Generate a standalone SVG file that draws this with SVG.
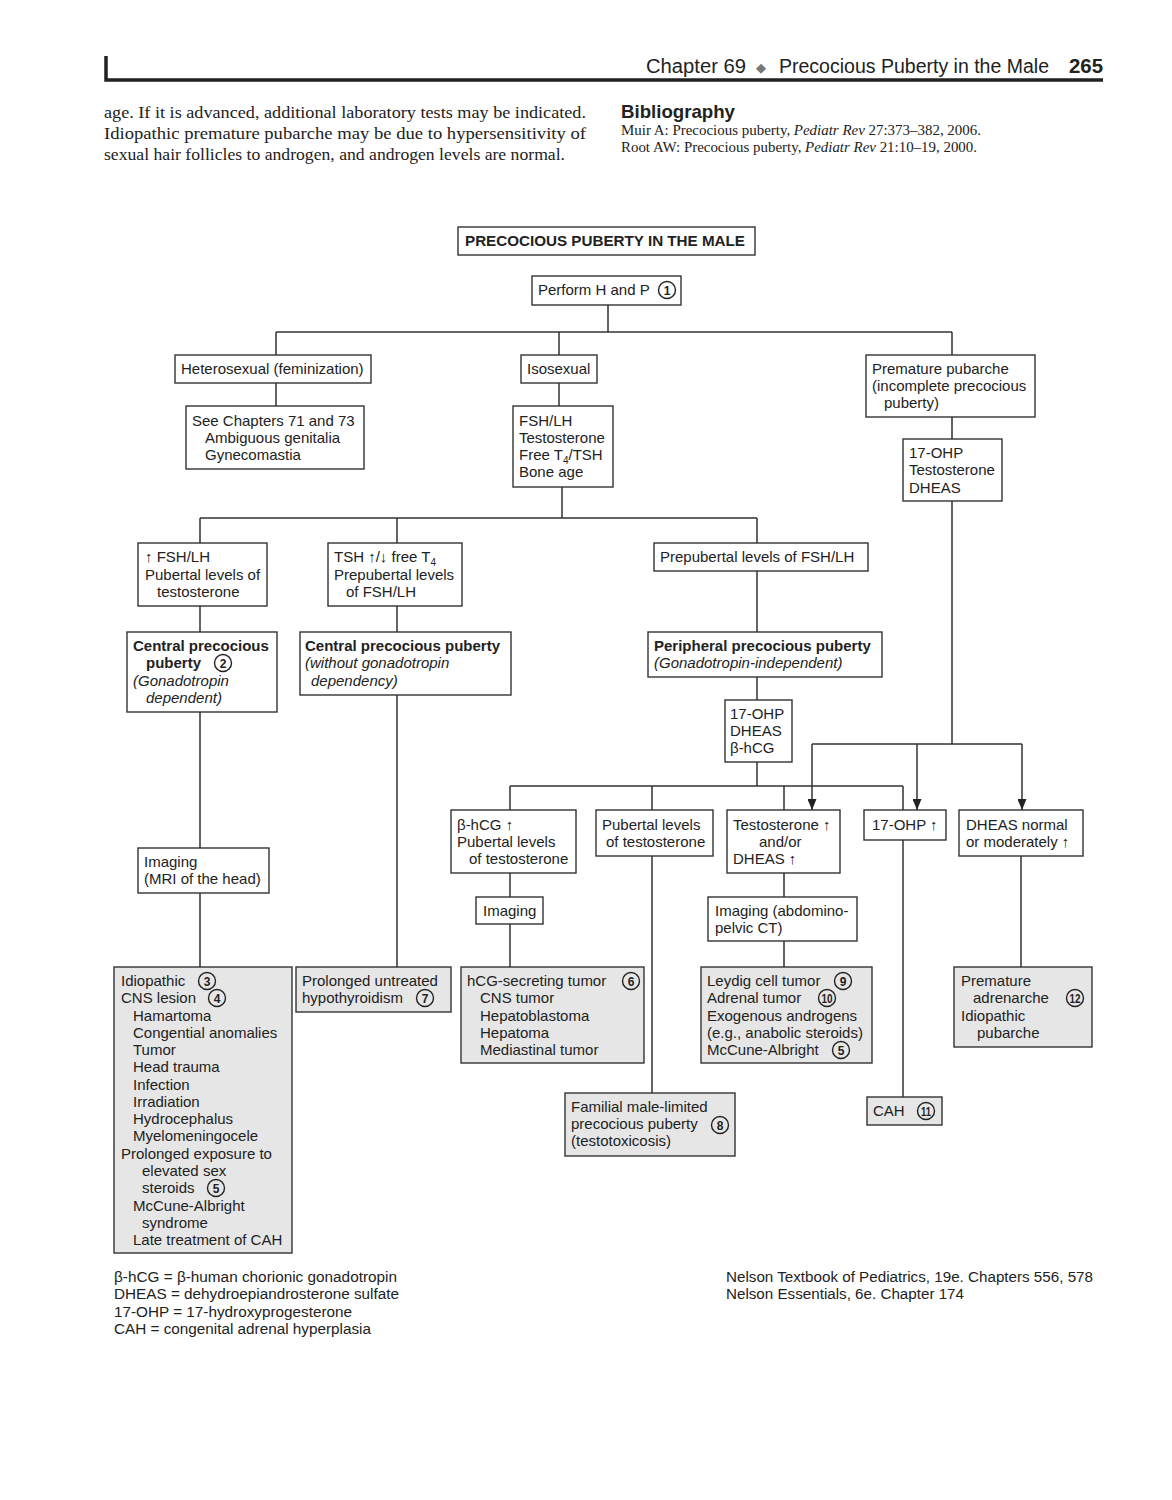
<svg xmlns="http://www.w3.org/2000/svg" width="1172" height="1500" viewBox="0 0 1172 1500">
<style>
.bg{fill:#fff}
.box{fill:#fff;stroke:#333;stroke-width:1.4}
.gbox{fill:#e6e6e6;stroke:#333;stroke-width:1.4}
.t{font-family:"Liberation Sans",Arial,sans-serif;font-size:15px;fill:#222}
.b{font-weight:bold}
.i{font-style:italic}
.c{fill:none;stroke:#333;stroke-width:1.5}
.n circle{fill:none;stroke:#222;stroke-width:1.4}
.n text{font-family:"Liberation Sans",Arial,sans-serif;font-size:12px;font-weight:bold;fill:#222;text-anchor:middle}
.hdr{font-family:"Liberation Sans",Arial,sans-serif;fill:#222}
.ser{font-family:"Liberation Serif","Times New Roman",serif;fill:#222}
.ft{font-family:"Liberation Sans",Arial,sans-serif;font-size:14px;fill:#222}
</style>
<defs>
<marker id="ah" markerUnits="userSpaceOnUse" markerWidth="12" markerHeight="9" refX="11" refY="4.5" orient="auto">
<path d="M0,0 L11,4.5 L0,9 z" fill="#222"/>
</marker>
</defs>
<rect class="bg" x="0" y="0" width="1172" height="1500"/>

<g id="page-header">
<path d="M106 56 V80 H1103" fill="none" stroke="#222" stroke-width="3.5"/>
<text class="hdr" x="646" y="73" font-size="20" textLength="100" lengthAdjust="spacingAndGlyphs">Chapter 69</text>
<text class="hdr" x="756" y="72" font-size="13" fill="#777" style="fill:#777">◆</text>
<text class="hdr" x="779" y="73" font-size="20" textLength="270" lengthAdjust="spacingAndGlyphs">Precocious Puberty in the Male</text>
<text class="hdr" x="1069" y="73" font-size="20" font-weight="bold" textLength="34" lengthAdjust="spacingAndGlyphs">265</text>
<text class="ser" x="104" y="118" font-size="17" textLength="482" lengthAdjust="spacingAndGlyphs">age. If it is advanced, additional laboratory tests may be indicated.</text>
<text class="ser" x="104" y="139" font-size="17" textLength="482" lengthAdjust="spacingAndGlyphs">Idiopathic premature pubarche may be due to hypersensitivity of</text>
<text class="ser" x="104" y="160" font-size="17" textLength="461" lengthAdjust="spacingAndGlyphs">sexual hair follicles to androgen, and androgen levels are normal.</text>
<text class="hdr" x="621" y="118" font-size="19" font-weight="bold" textLength="114" lengthAdjust="spacingAndGlyphs">Bibliography</text>
<text class="ser" x="621" y="135" font-size="14" textLength="360" lengthAdjust="spacingAndGlyphs">Muir A: Precocious puberty, <tspan font-style="italic">Pediatr Rev</tspan> 27:373–382, 2006.</text>
<text class="ser" x="621" y="152" font-size="14" textLength="356" lengthAdjust="spacingAndGlyphs">Root AW: Precocious puberty, <tspan font-style="italic">Pediatr Rev</tspan> 21:10–19, 2000.</text>
</g>

<g id="connectors">
<path class="c" d="M608 305 V332 M276 332 H952 M276 332 V355 M559 332 V355 M952 332 V355"/>
<path class="c" d="M276 383 V406 M559 383 V406 M952 417 V439"/>
<path class="c" d="M562 487 V518 M200 518 H757 M200 518 V543 M397 518 V543 M757 518 V543"/>
<path class="c" d="M200 606 V632 M397 606 V632 M757 571 V632"/>
<path class="c" d="M200 712 V848 M397 695 V967 M757 677 V700 M200 893 V967"/>
<path class="c" d="M757 762 V786 M510 786 H903 M510 786 V810 M652 786 V810 M784 786 V810 M903 786 V810"/>
<path class="c" d="M952 501 V744 M812 744 H1022"/>
<path class="c" d="M812 744 V810" marker-end="url(#ah)"/>
<path class="c" d="M917 744 V810" marker-end="url(#ah)"/>
<path class="c" d="M1022 744 V810" marker-end="url(#ah)"/>
<path class="c" d="M510 873 V897 M510 924 V967 M652 856 V1093 M784 873 V897 M784 941 V967 M903 840 V1097 M1021 856 V967"/>
</g>

<g id="n-title">
<rect class="box" x="458" y="227" width="297" height="28"/>
<text class="t b" x="465" y="246" textLength="280" lengthAdjust="spacingAndGlyphs">PRECOCIOUS PUBERTY IN THE MALE</text>
</g>
<g id="n-perform">
<rect class="box" x="532" y="276" width="149" height="29"/>
<text class="t" x="538" y="295">Perform H and P</text>
<g class="n"><circle cx="667" cy="290" r="8.5"/><text x="667" y="294.5">1</text></g>
</g>
<g id="n-hetero">
<rect class="box" x="175" y="355" width="196" height="28"/>
<text class="t" x="181" y="374">Heterosexual (feminization)</text>
</g>
<g id="n-seechapters">
<rect class="box" x="186" y="406" width="178" height="63"/>
<text class="t" x="192" y="426">See Chapters 71 and 73</text>
<text class="t" x="205" y="443">Ambiguous genitalia</text>
<text class="t" x="205" y="460">Gynecomastia</text>
</g>
<g id="n-isosexual">
<rect class="box" x="521" y="355" width="76" height="28"/>
<text class="t" x="527" y="374">Isosexual</text>
</g>
<g id="n-labs">
<rect class="box" x="513" y="406" width="100" height="81"/>
<text class="t" x="519" y="426">FSH/LH</text>
<text class="t" x="519" y="443">Testosterone</text>
<text class="t" x="519" y="460">Free T<tspan font-size="10" dy="4">4</tspan><tspan dy="-4">/TSH</tspan></text>
<text class="t" x="519" y="477">Bone age</text>
</g>
<g id="n-pubarche">
<rect class="box" x="866" y="355" width="169" height="62"/>
<text class="t" x="872" y="374">Premature pubarche</text>
<text class="t" x="872" y="391">(incomplete precocious</text>
<text class="t" x="884" y="408">puberty)</text>
</g>
<g id="n-pubarche-labs">
<rect class="box" x="903" y="439" width="99" height="62"/>
<text class="t" x="909" y="458">17-OHP</text>
<text class="t" x="909" y="475">Testosterone</text>
<text class="t" x="909" y="493">DHEAS</text>
</g>
<g id="n-high-fsh">
<rect class="box" x="138" y="543" width="129" height="63"/>
<text class="t" x="145" y="562">↑ FSH/LH</text>
<text class="t" x="145" y="580">Pubertal levels of</text>
<text class="t" x="157" y="597">testosterone</text>
</g>
<g id="n-tsh">
<rect class="box" x="328" y="543" width="134" height="63"/>
<text class="t" x="334" y="562">TSH ↑/↓ free T<tspan font-size="10" dy="4">4</tspan></text>
<text class="t" x="334" y="580">Prepubertal levels</text>
<text class="t" x="346" y="597">of FSH/LH</text>
</g>
<g id="n-prepubertal">
<rect class="box" x="654" y="543" width="214" height="28"/>
<text class="t" x="660" y="562">Prepubertal levels of FSH/LH</text>
</g>
<g id="n-cpp">
<rect class="box" x="127" y="632" width="150" height="80"/>
<text class="t b" x="133" y="651">Central precocious</text>
<text class="t b" x="146" y="668">puberty</text>
<g class="n"><circle cx="223" cy="663" r="8.5"/><text x="223" y="667.5">2</text></g>
<text class="t i" x="133" y="686">(Gonadotropin</text>
<text class="t i" x="146" y="703">dependent)</text>
</g>
<g id="n-cpp2">
<rect class="box" x="300" y="632" width="211" height="63"/>
<text class="t b" x="305" y="651">Central precocious puberty</text>
<text class="t i" x="305" y="668">(without gonadotropin</text>
<text class="t i" x="311" y="686">dependency)</text>
</g>
<g id="n-ppp">
<rect class="box" x="648" y="632" width="234" height="45"/>
<text class="t b" x="654" y="651">Peripheral precocious puberty</text>
<text class="t i" x="654" y="668">(Gonadotropin-independent)</text>
</g>
<g id="n-ppp-labs">
<rect class="box" x="725" y="700" width="67" height="62"/>
<text class="t" x="730" y="719">17-OHP</text>
<text class="t" x="730" y="736">DHEAS</text>
<text class="t" x="730" y="753">β-hCG</text>
</g>
<g id="n-imaging-mri">
<rect class="box" x="138" y="848" width="131" height="45"/>
<text class="t" x="144" y="867">Imaging</text>
<text class="t" x="144" y="884">(MRI of the head)</text>
</g>
<g id="n-bhcg">
<rect class="box" x="451" y="810" width="125" height="63"/>
<text class="t" x="457" y="830">β-hCG ↑</text>
<text class="t" x="457" y="847">Pubertal levels</text>
<text class="t" x="469" y="864">of testosterone</text>
</g>
<g id="n-pubertal-t">
<rect class="box" x="596" y="810" width="117" height="46"/>
<text class="t" x="602" y="830">Pubertal levels</text>
<text class="t" x="606" y="847">of testosterone</text>
</g>
<g id="n-testo">
<rect class="box" x="727" y="810" width="113" height="63"/>
<text class="t" x="733" y="830">Testosterone ↑</text>
<text class="t" x="759" y="847">and/or</text>
<text class="t" x="733" y="864">DHEAS ↑</text>
</g>
<g id="n-17ohp">
<rect class="box" x="864" y="810" width="82" height="30"/>
<text class="t" x="872" y="830">17-OHP ↑</text>
</g>
<g id="n-dheas">
<rect class="box" x="959" y="810" width="124" height="46"/>
<text class="t" x="966" y="830">DHEAS normal</text>
<text class="t" x="966" y="847">or moderately ↑</text>
</g>
<g id="n-imaging">
<rect class="box" x="476" y="897" width="67" height="27"/>
<text class="t" x="483" y="916">Imaging</text>
</g>
<g id="n-imaging-ct">
<rect class="box" x="708" y="897" width="149" height="44"/>
<text class="t" x="715" y="916">Imaging (abdomino-</text>
<text class="t" x="715" y="933">pelvic CT)</text>
</g>

<g id="n-central-causes">
<rect class="gbox" x="114" y="967" width="178" height="286"/>
<text class="t" x="121" y="986">Idiopathic</text>
<g class="n"><circle cx="207" cy="981" r="8.5"/><text x="207" y="985.5">3</text></g>
<text class="t" x="121" y="1003">CNS lesion</text>
<g class="n"><circle cx="217" cy="998" r="8.5"/><text x="217" y="1002.5">4</text></g>
<text class="t" x="133" y="1020.5">Hamartoma</text>
<text class="t" x="133" y="1037.8">Congential anomalies</text>
<text class="t" x="133" y="1055">Tumor</text>
<text class="t" x="133" y="1072.3">Head trauma</text>
<text class="t" x="133" y="1089.6">Infection</text>
<text class="t" x="133" y="1106.9">Irradiation</text>
<text class="t" x="133" y="1124.2">Hydrocephalus</text>
<text class="t" x="133" y="1141.4">Myelomeningocele</text>
<text class="t" x="121" y="1158.7">Prolonged exposure to</text>
<text class="t" x="142" y="1176">elevated sex</text>
<text class="t" x="142" y="1193.2">steroids</text>
<g class="n"><circle cx="216" cy="1188" r="8.5"/><text x="216" y="1192.5">5</text></g>
<text class="t" x="133" y="1210.5">McCune-Albright</text>
<text class="t" x="142" y="1227.8">syndrome</text>
<text class="t" x="133" y="1245">Late treatment of CAH</text>
</g>
<g id="n-hypothyroid">
<rect class="gbox" x="296" y="967" width="155" height="45"/>
<text class="t" x="302" y="986">Prolonged untreated</text>
<text class="t" x="302" y="1003">hypothyroidism</text>
<g class="n"><circle cx="425" cy="998" r="8.5"/><text x="425" y="1002.5">7</text></g>
</g>
<g id="n-hcg-tumor">
<rect class="gbox" x="461" y="967" width="183" height="96"/>
<text class="t" x="467" y="986">hCG-secreting tumor</text>
<g class="n"><circle cx="631" cy="981" r="8.5"/><text x="631" y="985.5">6</text></g>
<text class="t" x="480" y="1003">CNS tumor</text>
<text class="t" x="480" y="1020.5">Hepatoblastoma</text>
<text class="t" x="480" y="1037.8">Hepatoma</text>
<text class="t" x="480" y="1055">Mediastinal tumor</text>
</g>
<g id="n-leydig">
<rect class="gbox" x="701" y="967" width="171" height="96"/>
<text class="t" x="707" y="986">Leydig cell tumor</text>
<g class="n"><circle cx="843" cy="981" r="8.5"/><text x="843" y="985.5">9</text></g>
<text class="t" x="707" y="1003">Adrenal tumor</text>
<g class="n"><circle cx="827" cy="998" r="8.5"/><text x="827" y="1002.5" textLength="11" lengthAdjust="spacingAndGlyphs">10</text></g>
<text class="t" x="707" y="1020.5">Exogenous androgens</text>
<text class="t" x="707" y="1037.8">(e.g., anabolic steroids)</text>
<text class="t" x="707" y="1055">McCune-Albright</text>
<g class="n"><circle cx="841" cy="1050" r="8.5"/><text x="841" y="1054.5">5</text></g>
</g>
<g id="n-adrenarche">
<rect class="gbox" x="954" y="967" width="138" height="80"/>
<text class="t" x="961" y="986">Premature</text>
<text class="t" x="973" y="1003">adrenarche</text>
<g class="n"><circle cx="1075" cy="998" r="8.5"/><text x="1075" y="1002.5" textLength="11" lengthAdjust="spacingAndGlyphs">12</text></g>
<text class="t" x="961" y="1020.5">Idiopathic</text>
<text class="t" x="977" y="1037.8">pubarche</text>
</g>
<g id="n-familial">
<rect class="gbox" x="565" y="1093" width="170" height="63"/>
<text class="t" x="571" y="1112">Familial male-limited</text>
<text class="t" x="571" y="1129">precocious puberty</text>
<g class="n"><circle cx="720" cy="1125" r="8.5"/><text x="720" y="1129.5">8</text></g>
<text class="t" x="571" y="1146">(testotoxicosis)</text>
</g>
<g id="n-cah">
<rect class="gbox" x="867" y="1097" width="75" height="28"/>
<text class="t" x="873" y="1116">CAH</text>
<g class="n"><circle cx="926" cy="1111" r="8.5"/><text x="926" y="1115.5" textLength="10" lengthAdjust="spacingAndGlyphs">11</text></g>
</g>

<g id="footer">
<text class="ft" x="114" y="1282" textLength="283" lengthAdjust="spacingAndGlyphs">β-hCG = β-human chorionic gonadotropin</text>
<text class="ft" x="114" y="1299" textLength="285" lengthAdjust="spacingAndGlyphs">DHEAS = dehydroepiandrosterone sulfate</text>
<text class="ft" x="114" y="1317" textLength="238" lengthAdjust="spacingAndGlyphs">17-OHP = 17-hydroxyprogesterone</text>
<text class="ft" x="114" y="1334" textLength="257" lengthAdjust="spacingAndGlyphs">CAH = congenital adrenal hyperplasia</text>
<text class="ft" x="726" y="1282" textLength="367" lengthAdjust="spacingAndGlyphs">Nelson Textbook of Pediatrics, 19e. Chapters 556, 578</text>
<text class="ft" x="726" y="1299" textLength="238" lengthAdjust="spacingAndGlyphs">Nelson Essentials, 6e. Chapter 174</text>
</g>
</svg>
